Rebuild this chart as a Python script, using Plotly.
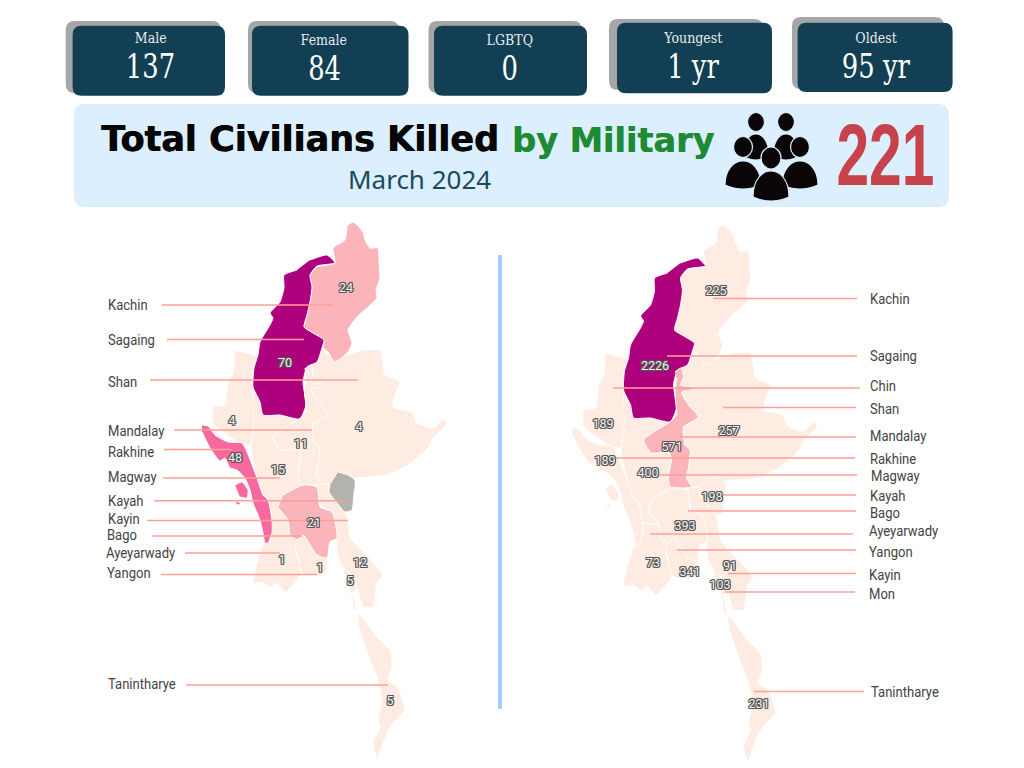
import json
import plotly.graph_objects as go

# header cards
card_titles = ["Male", "Female", "LGBTQ", "Youngest", "Oldest"]
card_values = ["137", "84", "0", "1 yr", "95 yr"]
card_boxes = [(72.6, 225, 25.7, 95.7), (252, 408.5, 25.7, 95.7), (434, 587, 25.7, 95.7),
              (617, 772, 22.7, 93.3), (797.6, 952.6, 22.7, 92)]
card_shadows = [(65.7, 221, 21, 93), (248, 399, 21, 93), (428.5, 582, 21, 93),
                (609, 763, 19, 90), (792, 944, 17, 89)]
card_text_x = [150, 324, 510, 693, 876]
card_title_y = [38, 40, 40, 38, 38]
card_value_y = [66, 68, 68, 66, 66]

# region outlines, drawn on the left map's pixel grid
kachin = [(348, 225), (353, 222), (359, 227), (363, 232), (365, 240), (370, 248), (378, 248), (379, 262),
          (380, 278), (376, 290), (377, 298), (367, 308), (357, 317), (348, 330), (352, 343), (348, 352),
          (335, 362), (328, 352), (323, 347), (324, 340), (313, 333), (304, 327), (307, 315), (310, 302),
          (312, 287), (310, 275), (317, 267), (335, 263), (333, 248), (345, 240), (347, 228)]
sagaing = [(310, 260), (327, 255), (335, 263), (317, 266), (310, 275), (312, 287), (310, 302), (307, 315),
           (304, 327), (313, 333), (324, 340), (322, 348), (317, 362), (307, 367), (303, 382), (306, 405),
           (300, 419), (292, 418), (280, 415), (263, 415), (260, 402), (253, 387), (254, 368), (258, 355),
           (260, 342), (270, 325), (273, 318), (270, 313), (280, 302), (284, 288), (284, 275), (297, 270)]
chin = [(235, 350), (257, 357), (253, 370), (253, 388), (254, 422), (251, 445), (238, 442), (223, 432),
        (213, 423), (213, 407), (225, 405), (228, 382), (234, 372)]
shan = [(323, 350), (333, 358), (348, 355), (363, 350), (380, 350), (383, 362), (385, 375), (400, 382),
        (395, 395), (393, 407), (412, 412), (417, 423), (433, 428), (443, 419), (447, 423), (433, 438),
        (428, 448), (408, 465), (387, 475), (367, 477), (353, 478), (338, 472), (330, 485), (321, 484),
        (316, 475), (318, 465), (319, 447), (314, 442), (313, 424), (328, 414), (318, 402), (311, 389),
        (309, 382), (313, 375), (311, 365), (322, 348)]
mandalay = [(304.5, 369), (311, 365), (313, 375), (309.5, 382), (324.5, 384), (321, 387), (311, 389), (318, 402),
            (328, 414), (313, 424), (314.5, 442), (319.5, 447), (318, 465), (316, 475), (321, 484), (299.5, 484),
            (298, 474), (301, 455), (298, 449), (281, 450), (273, 437), (289.5, 425), (298, 420), (306, 412),
            (304.5, 392), (306, 375)]
magway = [(253, 388), (260, 402), (263, 415), (280, 415), (292, 418), (298, 420), (289.5, 425), (273, 437),
          (281, 450), (298, 449), (301, 455), (298, 474), (303, 485), (283, 495), (278, 508), (288, 520),
          (272, 520), (268, 500), (263, 495), (257, 478), (251, 450), (254, 422)]
rakhine = [(202, 425), (208, 426), (215, 435), (228, 442), (242, 443), (247, 452), (257, 478), (263, 495),
           (268, 500), (272, 520), (272, 533), (268, 543), (265, 543), (263, 533), (260, 520), (253, 503),
           (250, 490), (245, 478), (237, 470), (230, 468), (225, 458), (220, 461), (217, 458), (210, 448),
           (202, 432), None,
           (235, 485), (242, 482), (248, 490), (247, 498), (240, 497), None,
           (235, 501), (241, 503), (238, 505)]
bago = [(283, 495), (303, 485), (317, 487), (320, 507), (332, 512), (337, 538), (330, 542), (327, 558),
        (317, 555), (303, 535), (297, 540), (290, 535), (288, 520), (278, 508)]
ayeyarwady = [(272, 520), (288, 522), (290, 535), (297, 540), (295, 547), (300, 567), (302, 572), (295, 583),
              (285, 592), (277, 583), (270, 587), (263, 582), (253, 583), (257, 563), (263, 545), (268, 542),
              (272, 530)]
yangon = [(295, 543), (303, 535), (317, 555), (327, 558), (326, 572), (318, 576), (302, 573), (297, 552)]
kayah = [(338, 472), (348, 475), (355, 480), (355, 487), (354, 493), (352, 510), (345, 512), (337, 503),
         (329, 492), (330, 485)]
kayin = [(317, 484), (330, 485), (329, 492), (337, 503), (345, 512), (348, 523), (350, 537), (363, 552), (377, 567),
         (383, 575), (377, 582), (375, 597), (373, 607), (363, 607), (357, 587), (350, 573), (343, 568),
         (337, 553), (336, 537), (332, 512), (321, 507)]
mon = [(343, 568), (350, 573), (357, 587), (353, 593), (357, 612), (353, 607), (352, 597), (347, 580)]
tanintharyi = [(357, 613), (363, 618), (377, 637), (390, 650), (392, 667), (388, 680), (398, 688), (405, 710),
               (393, 723), (387, 733), (377, 758), (373, 743), (380, 727), (378, 720), (382, 700), (378, 680),
               (370, 660), (360, 630)]

regions = [("Shan", shan), ("Chin", chin), ("Magway", magway), ("Ayeyarwady", ayeyarwady), ("Yangon", yangon),
           ("Kayin", kayin), ("Mon", mon), ("Tanintharyi", tanintharyi), ("Kachin", kachin), ("Sagaing", sagaing),
           ("Mandalay", mandalay), ("Rakhine", rakhine), ("Bago", bago), ("Kayah", kayah)]

# map colours
PALE = "#feebe2"
PINK = "#fbb4b9"
HOT = "#f768a1"
DARK = "#ae017e"
GREY = "#b3b2ad"
left_colors = {"Kachin": PINK, "Sagaing": DARK, "Rakhine": HOT, "Bago": PINK, "Kayah": GREY}
right_colors = {"Sagaing": DARK, "Mandalay": PINK}

# left map: March 2024
left_names = ["Kachin", "Sagaing", "Shan", "Mandalay", "Rakhine", "Magway", "Kayah", "Kayin", "Bago",
              "Ayeyarwady", "Yangon", "Tanintharye"]
left_name_y = [306, 341, 383, 432, 453, 478, 502, 520, 536, 554, 574, 685]
left_name_x = [108, 108, 108, 108, 108, 108, 108, 108, 107, 106, 107, 108]
left_line_start = [162, 167, 150, 174, 164, 163, 154, 147, 152, 185, 161, 186]
left_line_end = [333, 304, 358, 312, 232, 280, 345, 348, 302, 280, 317, 388]
left_line_y = [305, 339.5, 380, 430, 449.5, 478, 500.7, 520.5, 536, 553, 574.5, 685]
left_values = [24, 70, 4, 4, 11, 48, 15, 21, 1, 1, 12, 5, 5]
left_value_x = [346, 285, 232, 359, 301, 235, 278, 314, 282, 320, 360, 350, 390]
left_value_y = [289, 364, 422, 428, 445, 459, 471, 524, 561, 569, 564, 582, 702]

# right map: cumulative
right_names = ["Kachin", "Sagaing", "Chin", "Shan", "Mandalay", "Rakhine", "Magway", "Kayah", "Bago",
               "Ayeyarwady", "Yangon", "Kayin", "Mon", "Tanintharye"]
right_name_y = [300, 357, 387, 410, 437, 460, 477, 497, 514, 532, 553, 576, 595, 693]
right_name_x = [870, 870, 870, 870, 870, 870, 871, 870, 870, 869, 869, 869, 869, 871]
right_line_start = [713, 667, 613, 723, 680, 612, 650, 723, 688, 650, 677, 728, 725, 754]
right_line_end = [857, 857, 860, 856, 856, 855, 857, 856, 856, 853, 856, 856, 855, 864]
right_line_y = [298.5, 356, 388, 407.5, 437, 458, 475, 495, 511, 534, 550, 573.5, 592, 691.5]
right_values = [225, 2226, 189, 257, 571, 189, 400, 198, 393, 73, 341, 91, 103, 231]
right_value_x = [716, 655, 603, 729, 672, 605, 648, 712, 685, 653, 690, 730, 720, 759]
right_value_y = [292, 367, 425, 432, 448, 462, 474, 498, 527, 564, 573, 567, 586, 705]

RIGHT_DX = 370.5
RIGHT_DY = 3

HALO = ",".join(f"{a}px {b}px 0 #555555" for a, b in [(-1, -1), (1, -1), (-1, 1), (1, 1), (0, -1), (0, 1), (-1, 0), (1, 0)])


def rounded(x0, x1, y0, y1, r=9):
    return (f"M{x0 + r},{y0} L{x1 - r},{y0} Q{x1},{y0} {x1},{y0 + r} L{x1},{y1 - r} Q{x1},{y1} {x1 - r},{y1} "
            f"L{x0 + r},{y1} Q{x0},{y1} {x0},{y1 - r} L{x0},{y0 + r} Q{x0},{y0} {x0 + r},{y0} Z")


def person(cx, head_y, r, half_w, top, bottom):
    # one head and one dome shaped body of the group icon
    ctrl = top - (bottom - 4 - top) / 3
    body = (f"M{cx - half_w},{bottom - 4} C{cx - half_w},{ctrl} {cx + half_w},{ctrl} {cx + half_w},{bottom - 4} "
            f"Q{cx},{bottom + 4} {cx - half_w},{bottom - 4} Z")
    shapes = [dict(type="path", path=body, fillcolor="#0a0506", line=dict(color="#dcefff", width=1.2)),
              dict(type="circle", x0=cx - r, x1=cx + r, y0=head_y - r - 1, y1=head_y + r + 1,
                   fillcolor="#0a0506", line=dict(color="#dcefff", width=1.2))]
    return shapes


fig = go.Figure()


def draw_map(colors, dx, dy):
    for name, outline in regions:
        xs = [None if p is None else p[0] + dx for p in outline]
        ys = [None if p is None else p[1] + dy for p in outline]
        fig.add_trace(go.Scatter(x=xs, y=ys, mode="lines", fill="toself", name=name,
                                 fillcolor=colors.get(name, PALE),
                                 line=dict(color="white", width=1, shape="spline", smoothing=0.5)))


def draw_labels(names, name_x, name_y, starts, ends, line_y, values, value_x, value_y):
    for a, b, y in zip(starts, ends, line_y):
        fig.add_trace(go.Scatter(x=[a, b], y=[y, y], mode="lines", line=dict(color="#ffa096", width=1.5)))
    fig.add_trace(go.Scatter(x=name_x, y=name_y, mode="text", text=names, textposition="middle right",
                             textfont=dict(family="Roboto", size=14.5, color="#444444")))
    fig.add_trace(go.Scatter(x=value_x, y=value_y, mode="text", text=[str(v) for v in values],
                             textposition="middle center",
                             textfont=dict(family="Roboto", size=12.5, color="#f4f4f4", shadow=HALO)))


draw_map(left_colors, 0, 0)
draw_map(right_colors, RIGHT_DX, RIGHT_DY)
draw_labels(left_names, left_name_x, left_name_y, left_line_start, left_line_end, left_line_y,
            left_values, left_value_x, left_value_y)
draw_labels(right_names, right_name_x, right_name_y, right_line_start, right_line_end, right_line_y,
            right_values, right_value_x, right_value_y)

shapes = []
for x0, x1, y0, y1 in card_shadows:
    shapes.append(dict(type="path", path=rounded(x0, x1, y0, y1), fillcolor="#a6a6a6", line=dict(width=0)))
for x0, x1, y0, y1 in card_boxes:
    shapes.append(dict(type="path", path=rounded(x0, x1, y0, y1), fillcolor="#123f53", line=dict(width=0)))
shapes.append(dict(type="path", path=rounded(74, 949, 104, 207, 11), fillcolor="#dcefff", line=dict(width=0)))
shapes.append(dict(type="line", x0=500, x1=500, y0=255, y1=709, line=dict(color="#a6cdfb", width=4)))
# group icon, back row first
shapes += person(756, 122, 8.5, 13, 134, 160)
shapes += person(786, 122, 8.5, 13, 134, 160)
shapes += person(743, 147, 9.5, 18, 161, 189)
shapes += person(800, 147, 9.5, 18, 161, 189)
shapes += person(771, 158, 10, 18, 171, 201)

annotations = []
for title, value, cx, ty, vy in zip(card_titles, card_values, card_text_x, card_title_y, card_value_y):
    annotations.append(dict(x=cx, y=ty, text=title, showarrow=False,
                            font=dict(family="DejaVu Serif", size=14, color="#e6ecef")))
    annotations.append(dict(x=cx, y=vy, text=value, showarrow=False,
                            font=dict(family="DejaVu Serif", size=34, color="white")))
annotations.append(dict(x=99, y=139, xanchor="left", text="<b>Total Civilians Killed</b>", showarrow=False,
                        font=dict(family="DejaVu Sans", size=35, color="#050505", shadow="0.7px 0 0 #050505")))
annotations.append(dict(x=510, y=140, xanchor="left", text="<b>by Military</b>", showarrow=False,
                        font=dict(family="DejaVu Sans", size=33.5, color="#1e8a34", shadow="0.5px 0 0 #1e8a34")))
annotations.append(dict(x=419, y=179, text="March 2024", showarrow=False,
                        font=dict(family="Noto Sans", size=26, color="#1a4a5e")))
annotations.append(dict(x=885, y=154, text="<b>221</b>", showarrow=False,
                        font=dict(family="Liberation Sans", size=88, color="#c8424b")))

fig.update_layout(
    width=1024,
    height=768,
    margin=dict(l=0, r=0, t=0, b=0),
    paper_bgcolor="white",
    plot_bgcolor="white",
    showlegend=False,
    shapes=shapes,
    annotations=annotations,
    xaxis=dict(range=[0, 1024], visible=False, fixedrange=True),
    yaxis=dict(range=[768, 0], visible=False, fixedrange=True),
)

# the original uses condensed faces, narrow the nearest installed ones
squeeze = {"221": 0.667}
squeeze.update({v: 0.76 for v in card_values})
squeeze.update({t: 0.9 for t in card_titles})
post_script = """
document.body.style.margin = '0';
var squeeze = %s;
var mapNames = %s;
function narrow() {
  document.querySelectorAll('.annotation-text').forEach(function (t) {
    var k = squeeze[t.textContent];
    if (k) {
      t.style.transformBox = 'fill-box';
      t.style.transformOrigin = 'center';
      t.style.transform = 'scaleX(' + k + ')';
    }
  });
  document.querySelectorAll('.textpoint text').forEach(function (t) {
    if (mapNames.indexOf(t.textContent) >= 0) {
      t.style.transformBox = 'fill-box';
      t.style.transformOrigin = 'left center';
      t.style.transform = 'scaleX(0.9)';
    }
  });
}
narrow();
setTimeout(narrow, 100);
""" % (json.dumps(squeeze), json.dumps(right_names))

fig.write_html("out.html", post_script=post_script, config={"displayModeBar": False})
